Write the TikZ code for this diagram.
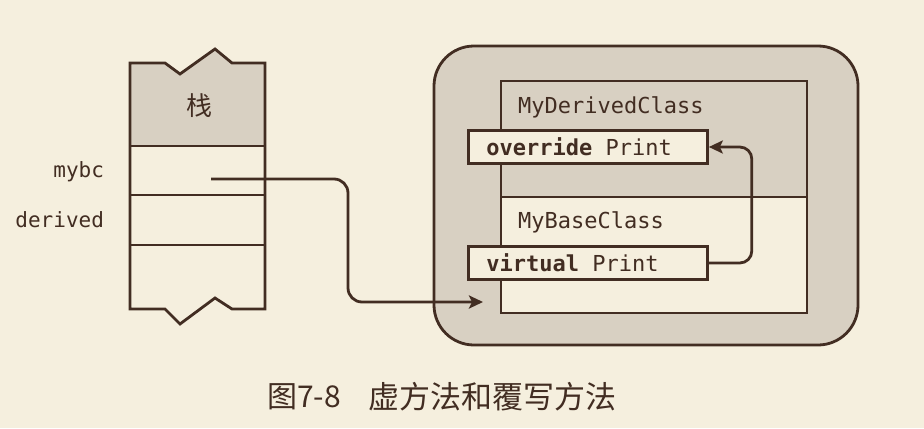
\documentclass[tikz,border=0pt]{standalone}
\usepackage{fontspec}
\setmonofont{DejaVu Sans Mono}
\newfontfamily\cjk{Noto Sans CJK SC}
\usetikzlibrary{arrows.meta}
\definecolor{paper}{RGB}{245,239,222}
\definecolor{boxgrey}{RGB}{216,208,194}
\definecolor{ink}{RGB}{66,45,34}

\begin{document}
\begin{tikzpicture}[x=0.5pt,y=-0.5pt,line width=1.4pt,draw=ink,text=ink,
  method/.style={draw,fill=paper,anchor=west,text width=101.5pt,align=left,
    inner xsep=9pt,inner ysep=0pt,minimum height=16.5pt,
    font=\ttfamily\fontsize{11}{13}\selectfont},
  ptr/.style={-{Stealth[length=7pt,width=6.5pt,inset=1.5pt]},rounded corners=7pt}]
% Page and its margins
\fill[paper] (0,0) rectangle (924,428);
\useasboundingbox (0,0) rectangle (924,428);
% Stack: grey top with torn edge
\fill[boxgrey] (130,63) -- (165,63) -- (180,74) -- (215,49) -- (232,63) -- (265,63)
  -- (265,146) -- (130,146) -- cycle;
\draw (130,63) -- (165,63) -- (180,74) -- (215,49) -- (232,63) -- (265,63)
  -- (265,309) -- (232,309) -- (215,298) -- (180,324) -- (165,309) -- (130,309) -- cycle;
% Cell borders of the stack
\draw (130,146) -- (265,146);
\draw (130,195) -- (265,195);
\draw (130,245) -- (265,245);
\node[font=\cjk\fontsize{13}{15}\selectfont] (stack) at (199,106) {栈};
% Variable names
\node[anchor=east,font=\ttfamily\fontsize{10.5}{12}\selectfont] (mybc) at (112,172) {mybc};
\node[anchor=east,font=\ttfamily\fontsize{10.5}{12}\selectfont] (derived) at (112,220) {derived};
% Heap object
\draw[fill=boxgrey,rounded corners=20pt] (434,46) rectangle (858,345);
\draw[fill=boxgrey] (501,81) rectangle (807,197);
\draw[fill=paper] (501,197) rectangle (807,313);
\node[anchor=west,font=\ttfamily\fontsize{11}{13}\selectfont] (derivedname) at (510,107) {MyDerivedClass};
\node[anchor=west,font=\ttfamily\fontsize{11}{13}\selectfont] (basename) at (510,222) {MyBaseClass};
% Methods
\node[method] (override) at (467,147) {\textbf{override}\hspace{.602em}Print};
\node[method] (virtual) at (467,263) {\textbf{virtual}\hspace{.602em}Print};
% Reference from mybc to the object
\coordinate (mybcref) at (211,179);
\coordinate (objref) at (483,302);
\draw[ptr] (mybcref) -- ++(137,0) |- (objref);
% virtual Print is overridden
\draw[ptr,rounded corners=6pt] (virtual.east) -- ++(43,0) |- (override.east);
% Caption
\node[anchor=west,font=\cjk\fontsize{15}{17}\selectfont] (fignum) at (259,397) {图7-8};
\node[anchor=west,font=\cjk\fontsize{15.5}{17}\selectfont] (caption) at (360,397) {虚方法和覆写方法};
\end{tikzpicture}
\end{document}
